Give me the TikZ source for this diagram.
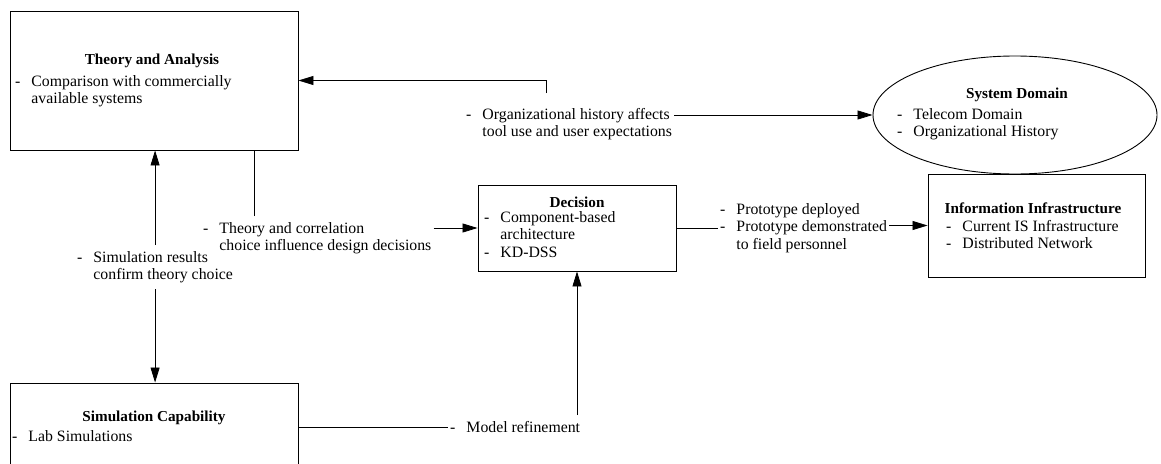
\documentclass[tikz,border=0pt]{standalone}
\usepackage{fontspec}
\setmainfont{Liberation Serif}
\usetikzlibrary{arrows.meta,shapes.geometric}
\tikzstyle{box}=[draw, line width=0.9pt, inner sep=0pt]
\tikzstyle{txt}=[anchor=north west, align=left, inner xsep=2pt, inner ysep=6pt, font=\fontsize{15.8}{17.5}\selectfont]
\tikzstyle{ttl}=[inner sep=0pt, font=\fontsize{15.2}{17.5}\selectfont\bfseries]
\tikzstyle{ln}=[line width=0.8pt]
\tikzstyle{arr}=[ln, -{Triangle[length=15pt,width=9pt]}]
\newcommand{\dsh}{-\hspace{11pt}}
\newcommand{\ind}{\hphantom{-}\hspace{11pt}}

\begin{document}
\begin{tikzpicture}[x=1pt,y=-1pt]
	\useasboundingbox (0,0) rectangle (1161,463);
	\clip (0,0) rectangle (1161,463);
	% boxes
	\node[box, minimum width=288pt, minimum height=139pt] (theory) at (154,80.5) {};
	\node[box, minimum width=198pt, minimum height=86pt] (decision) at (577,228) {};
	\node[box, minimum width=217pt, minimum height=103pt] (info) at (1036.5,225.5) {};
	\node[box, ellipse, minimum width=284pt, minimum height=118pt] (sysdom) at (1015,115) {};
	\node[box, minimum width=288pt, minimum height=88pt] (sim) at (154,427) {};
	% box texts
	\node[ttl] (theoryT) at (152,61) {Theory and Analysis};
	\node[txt] (theoryB) at (13,69) {\dsh Comparison with commercially\\\ind available systems};
	\node[ttl] (decisionT) at (577,202) {Decision};
	\node[txt] (decisionB) at (482,205) {\dsh Component-based\\\ind architecture\\\dsh KD-DSS};
	\node[ttl] (infoT) at (1033,208) {Information Infrastructure};
	\node[txt] (infoB) at (944,214) {\dsh Current IS Infrastructure\\\dsh Distributed Network};
	\node[ttl] (sysdomT) at (1017,95) {System Domain};
	\node[txt] (sysdomB) at (895,102) {\dsh Telecom Domain\\\dsh Organizational History};
	\node[ttl] (simT) at (154,418) {Simulation Capability};
	\node[txt] (simB) at (10,424) {\dsh Lab Simulations};
	% connector labels
	\node[txt] (orgL) at (464,102) {\dsh Organizational history affects\\\ind tool use and user expectations};
	\node[txt] (corrL) at (201,216) {\dsh Theory and correlation\\\ind choice influence design decisions};
	\node[txt] (simL) at (75,245) {\dsh Simulation results\\\ind confirm theory choice};
	\node[txt] (protL) at (718,197) {\dsh Prototype deployed\\\dsh Prototype demonstrated\\\ind to field personnel};
	\node[txt, anchor=west] (modL) at (448,427) {\dsh Model refinement};
	\coordinate (orgTop) at ([xshift=82pt,yshift=9pt]orgL.north west);
	\coordinate (corrTop) at ([xshift=53pt]corrL.north west);
	% connectors
	\draw[arr] (orgTop) |- (theory.east);
	\draw[arr] (orgL.east |- sysdom.west) -- (sysdom.west);
	\draw[ln] (corrTop) -- (corrTop |- theory.south);
	\draw[arr] (corrL.east |- decision.west) -- (decision.west);
	\draw[arr] (simL.north) -- (simL.north |- theory.south);
	\draw[arr] (simL.south) -- (simL.south |- sim.north);
	\draw[ln] (decision.east) -- (protL.west |- decision.east);
	\draw[arr] (protL.east |- info.west) -- (info.west);
	\draw[ln] (sim.east) -- (modL.west);
	\draw[arr] (decision.south |- modL.north) -- (decision.south);
\end{tikzpicture}
\end{document}
